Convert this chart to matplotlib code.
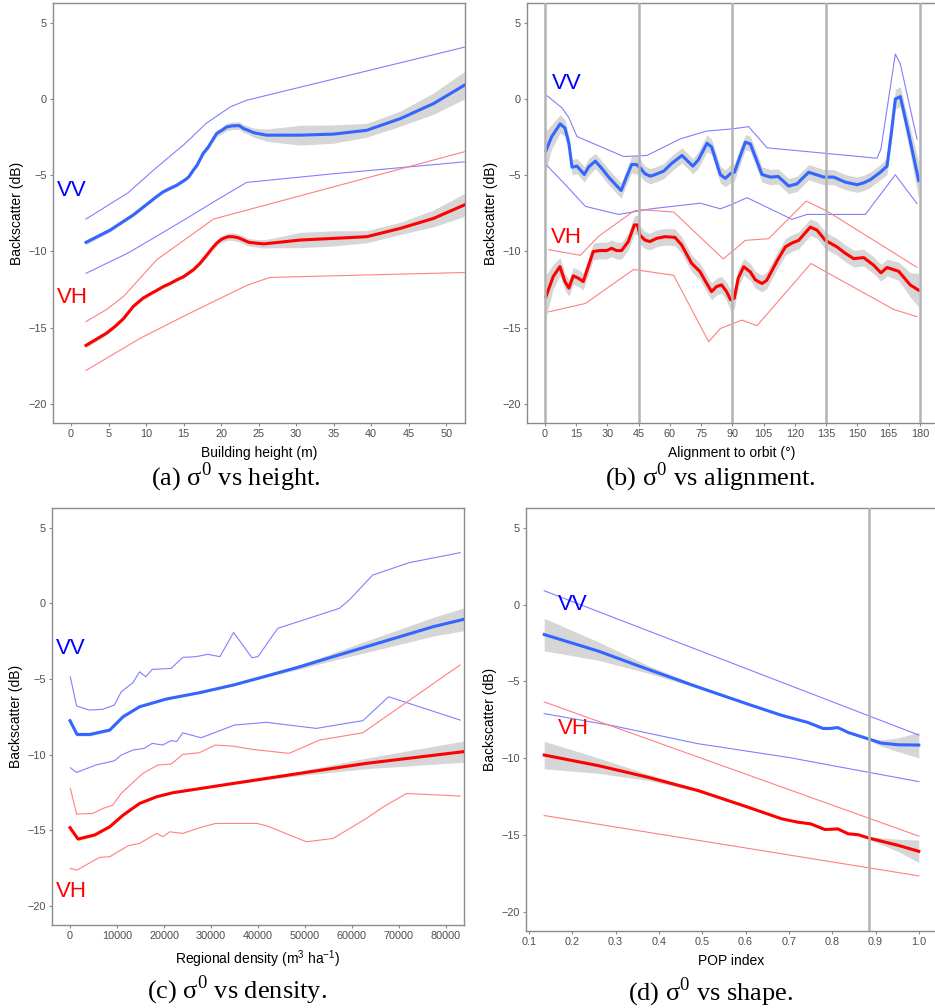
import matplotlib
matplotlib.use("Agg")
import matplotlib.pyplot as plt
import numpy as np

plt.rcParams["font.family"] = ["Liberation Sans", "DejaVu Sans"]

# ---- (a) backscatter vs building height ----
a_vv_x = [2, 5.2, 8.3, 11.4, 12.3, 13.2, 14.1, 15.2, 15.7, 16.3, 16.8, 17.6, 18.3, 19.4, 20.1, 20.75,
          21.5, 22.4, 23.0, 23.7, 24.3, 25.3, 26.1, 30.5, 35, 39.4, 43.9, 48.3, 52.4]
a_vv = [-9.4, -8.6, -7.6, -6.4, -6.08, -5.86, -5.65, -5.3, -5.1, -4.66, -4.34, -3.57, -3.14, -2.26, -2.05, -1.83,
        -1.76, -1.74, -1.94, -2.07, -2.2, -2.3, -2.37, -2.37, -2.3, -2.05, -1.28, -0.3, 0.9]
a_vv_se = [0.15, 0.12, 0.1, 0.1, 0.1, 0.1, 0.1, 0.1, 0.1, 0.12, 0.13, 0.15, 0.18, 0.2, 0.22, 0.25,
           0.25, 0.25, 0.25, 0.27, 0.3, 0.35, 0.4, 0.65, 0.6, 0.45, 0.5, 0.7, 0.9]
a_vh_x = [2, 4.75, 5.9, 7, 8.3, 9.6, 10.5, 11.6, 12.3, 13.2, 14.1, 15, 16.3, 17.2, 18.1, 18.8, 19.4, 19.9,
          20.3, 20.9, 21.6, 22.3, 23, 23.7, 24.8, 25.7, 26.5, 30.5, 35, 39.4, 43.9, 48.3, 52.4]
a_vh = [-16.16, -15.35, -14.9, -14.4, -13.6, -13.06, -12.8, -12.5, -12.3, -12.1, -11.86, -11.65, -11.2, -10.77,
        -10.23, -9.79, -9.46, -9.25, -9.14, -9.03, -9.03, -9.1, -9.25, -9.4, -9.46, -9.5, -9.46, -9.25, -9.14,
        -9.03, -8.48, -7.83, -6.95]
a_vh_se = [0.15, 0.12, 0.11, 0.1, 0.1, 0.1, 0.1, 0.1, 0.1, 0.1, 0.1, 0.1, 0.12, 0.13, 0.15, 0.18, 0.2, 0.2,
           0.22, 0.23, 0.25, 0.25, 0.25, 0.25, 0.25, 0.28, 0.3, 0.5, 0.5, 0.4, 0.4, 0.55, 0.75]
a_vv_hi_x = [2, 7.6, 11, 15.2, 18, 21.2, 23.4, 52.4]
a_vv_hi = [-7.87, -6.15, -4.66, -2.92, -1.6, -0.52, -0.08, 3.4]
a_vv_lo_x = [2, 7.6, 11.4, 15.4, 19.4, 23.4, 35, 52.4]
a_vv_lo = [-11.43, -10.1, -9.0, -7.83, -6.63, -5.47, -4.9, -4.12]
a_vh_hi_x = [2, 4.75, 7, 9.2, 11.4, 15.4, 19, 52.4]
a_vh_hi = [-14.6, -13.8, -12.95, -11.75, -10.55, -9.14, -7.87, -3.46]
a_vh_lo_x = [2, 9.2, 15.4, 23.4, 26.5, 52.4]
a_vh_lo = [-17.8, -15.7, -14.15, -12.23, -11.7, -11.38]

# ---- (b) backscatter vs alignment to orbit ----
b_vv_x = [0.5, 3.2, 7.3, 9.6, 11.5, 13, 15.4, 18.9, 21, 24.2,
          27, 30.6, 33.5, 36.6, 39.2, 41.6, 43.8, 45.7, 48, 50.6,
          53, 57, 61, 65.8, 71, 73.6, 77.8, 80, 84.2, 86.6,
          89, 91, 93.6, 96.2, 98.6, 101, 104.2, 108.2, 112, 117,
          121, 126.6, 130, 133.8, 138.6, 144.2, 149.8, 153, 156.2, 161,
          164.2, 166.3, 168.2, 170.6, 174.6, 179.4]
b_vv = [-3.38, -2.48, -1.63, -1.9, -2.9, -4.47, -4.4, -4.95, -4.45, -4.07,
        -4.5, -5.12, -5.55, -6.0, -5.1, -4.3, -4.29, -4.5, -4.9, -5.06,
        -4.95, -4.73, -4.2, -3.7, -4.4, -4.0, -2.9, -3.14, -4.96, -5.2,
        -4.9, -4.8, -3.79, -2.83, -2.94, -3.8, -4.95, -5.12, -5.08, -5.71,
        -5.56, -4.8, -4.95, -5.12, -5.12, -5.45, -5.62, -5.5, -5.29, -4.8,
        -4.4, -2.2, 0.0, 0.16, -2.28, -5.34]
b_vv_se = [1.3, 0.8, 0.6, 0.55, 0.5, 0.5, 0.5, 0.5, 0.55, 0.5,
           0.5, 0.5, 0.5, 0.5, 0.5, 0.55, 0.6, 0.55, 0.5, 0.5,
           0.5, 0.5, 0.5, 0.5, 0.5, 0.55, 0.55, 0.5, 0.55, 0.55,
           0.6, 0.55, 0.55, 0.5, 0.5, 0.5, 0.5, 0.5, 0.5, 0.5,
           0.5, 0.5, 0.5, 0.5, 0.5, 0.5, 0.5, 0.5, 0.5, 0.5,
           0.55, 0.6, 0.65, 0.65, 0.8, 1.2]
b_vh_x = [0.5, 4, 7.2, 9.6, 11.5, 13.6, 16, 18.4, 20.8, 23.2,
          26.4, 29.6, 32, 34.4, 36.8, 40, 42.9, 44.5, 45.6, 48,
          50.4, 53.6, 57.6, 62.4, 65.6, 70.4, 74.4, 77.6, 80, 82.4,
          84.8, 87.2, 89.1, 90.9, 92.8, 95.4, 98.6, 101, 104.2, 106.4,
          108.2, 111.5, 115.4, 118.5, 121.8, 124.8, 127.4, 130.6, 134.6, 140.2,
          144, 148.2, 153, 157.8, 161.3, 164.2, 169.8, 175.4, 179.4]
b_vh = [-12.95, -11.64, -10.99, -11.97, -12.4, -11.6, -11.75, -11.97, -10.99, -10.0,
        -9.94, -9.94, -9.79, -9.94, -9.94, -9.35, -8.26, -8.26, -8.92, -9.25,
        -9.35, -9.14, -9.03, -9.07, -9.57, -10.77, -11.32, -12.08, -12.63, -12.3,
        -12.19, -12.63, -13.17, -13.06, -11.75, -11.0, -11.34, -11.86, -12.1, -11.9,
        -11.45, -10.6, -9.7, -9.45, -9.27, -8.8, -8.4, -8.6, -9.27, -9.7,
        -10.1, -10.47, -10.4, -10.9, -11.4, -11.05, -11.3, -12.2, -12.54]
b_vh_se = [1.4, 0.8, 0.6, 0.55, 0.55, 0.55, 0.55, 0.55, 0.55, 0.55,
           0.55, 0.55, 0.55, 0.55, 0.55, 0.55, 0.6, 0.65, 0.6, 0.55,
           0.55, 0.55, 0.55, 0.55, 0.55, 0.55, 0.55, 0.55, 0.55, 0.55,
           0.55, 0.6, 0.7, 0.7, 0.6, 0.55, 0.55, 0.55, 0.55, 0.55,
           0.55, 0.55, 0.55, 0.55, 0.55, 0.55, 0.55, 0.55, 0.55, 0.55,
           0.55, 0.55, 0.55, 0.55, 0.55, 0.55, 0.6, 0.8, 1.1]
b_vv_hi_x = [1, 8.2, 11.4, 15.4, 37.8, 49, 65, 77.6, 89.8, 97.8, 106.6, 159.4, 161.3, 168.2, 170.6, 178.6]
b_vv_hi = [0.22, -0.58, -1.2, -2.46, -3.77, -3.7, -2.61, -2.1, -1.96, -1.81, -3.2, -3.88, -3.27, 2.95, 2.3, -2.62]
b_vv_lo_x = [1, 10.6, 19.4, 35.4, 51, 74.6, 84.2, 89.8, 97, 118.6, 125.8, 153.8, 168.2, 178.6]
b_vv_lo = [-4.36, -5.73, -7.04, -7.57, -7.2, -6.83, -7.2, -6.91, -6.47, -7.89, -7.57, -7.57, -4.97, -6.86]
b_vh_hi_x = [1.8, 17, 25.8, 42.6, 46.6, 61.8, 85.6, 96.2, 107.4, 125.4, 135.4, 178.6]
b_vh_hi = [-9.88, -10.25, -9.0, -7.35, -7.26, -7.41, -10.49, -9.27, -9.16, -6.69, -7.35, -11.04]
b_vh_lo_x = [1.8, 19.4, 42.6, 61.8, 78.6, 84.2, 94.6, 101.8, 127.7, 167.4, 178.6]
b_vh_lo = [-13.96, -13.41, -11.18, -11.56, -15.92, -15.05, -14.5, -14.87, -10.79, -13.8, -14.28]
b_vlines = [0, 45, 90, 135, 180]

# ---- (c) backscatter vs regional density ----
c_vv_x = [0, 1500, 4200, 8450, 11300, 14800, 20500, 27600, 34700, 41800, 48900, 56000, 63100, 70200, 77300, 83700]
c_vv = [-7.75, -8.66, -8.66, -8.37, -7.49, -6.83, -6.32, -5.9, -5.4, -4.8, -4.19, -3.52, -2.86, -2.2, -1.54, -1.06]
c_vv_se = [0.15, 0.1, 0.1, 0.1, 0.08, 0.06, 0.05, 0.05, 0.05, 0.08, 0.15, 0.25, 0.38, 0.5, 0.62, 0.75]
c_vh_x = [0, 1700, 5250, 8450, 11300, 14800, 18400, 21900, 34700, 48900, 63100, 83700]
c_vh = [-14.82, -15.57, -15.3, -14.76, -13.99, -13.22, -12.78, -12.51, -11.9, -11.23, -10.57, -9.8]
c_vh_se = [0.15, 0.1, 0.1, 0.08, 0.06, 0.05, 0.05, 0.05, 0.05, 0.15, 0.35, 0.7]
c_vv_hi_x = [70, 1400, 4100, 6960, 9450, 10900, 13400, 14800, 16100, 17500, 21500, 24000, 26800, 29300,
             31900, 34800, 38700, 40000, 44200, 57300, 59400, 64400, 72200, 83000]
c_vv_hi = [-4.85, -6.78, -7.05, -7.0, -6.72, -5.84, -5.24, -4.52, -4.85, -4.36, -4.3, -3.57, -3.52, -3.37,
           -3.52, -1.92, -3.59, -3.52, -1.65, -0.33, 0.22, 1.87, 2.69, 3.35]
c_vv_lo_x = [70, 1400, 5500, 9450, 10900, 13400, 15800, 17500, 19700, 21500, 22700, 24000, 27900, 35000,
             41800, 52400, 62300, 67800, 83000]
c_vv_lo = [-10.86, -11.17, -10.68, -10.4, -10.02, -9.69, -9.58, -9.25, -9.36, -9.07, -9.13, -8.55, -8.88, -8.04,
           -7.86, -8.26, -7.75, -6.17, -7.71]
c_vh_hi_x = [70, 1400, 4800, 7000, 9100, 10900, 15500, 18700, 21500, 24000, 27500, 30900, 34600, 38900,
             46600, 53100, 62300, 83000]
c_vh_hi = [-12.22, -13.92, -13.88, -13.55, -13.33, -12.55, -11.23, -10.68, -10.62, -9.98, -9.87, -9.36, -9.43, -9.65,
           -9.91, -9.03, -8.55, -4.07]
c_vh_lo_x = [70, 1500, 6300, 8450, 12400, 14800, 18400, 19800, 21200, 24000, 27600, 31000, 39800, 41900,
             50300, 56000, 63100, 66700, 71600, 83000]
c_vh_lo = [-17.51, -17.62, -16.78, -16.74, -16.01, -15.86, -15.2, -15.42, -15.09, -15.2, -14.82, -14.54, -14.54, -14.7,
           -15.75, -15.53, -14.2, -13.44, -12.56, -12.73]

# ---- (d) backscatter vs POP index ----
d_vv_x = [0.135, 0.26, 0.375, 0.49, 0.606, 0.683, 0.744, 0.779, 0.794, 0.813, 0.837, 0.885, 0.913, 0.952, 1.0]
d_vv = [-1.94, -3.02, -4.21, -5.36, -6.48, -7.2, -7.67, -8.06, -8.06, -8.0, -8.32, -8.75, -9.01, -9.12, -9.14]
d_vv_se = [1.06, 0.6, 0.25, 0.08, 0.06, 0.06, 0.06, 0.06, 0.06, 0.06, 0.06, 0.08, 0.2, 0.45, 0.83]
d_vh_x = [0.135, 0.26, 0.375, 0.49, 0.606, 0.683, 0.72, 0.75, 0.783, 0.813, 0.837, 0.86, 0.885, 0.952, 1.0]
d_vh = [-9.79, -10.48, -11.24, -12.1, -13.19, -13.94, -14.16, -14.27, -14.64, -14.6, -14.92, -14.98, -15.2, -15.67, -16.06]
d_vh_se = [0.9, 0.5, 0.2, 0.08, 0.05, 0.05, 0.05, 0.05, 0.05, 0.05, 0.05, 0.05, 0.08, 0.4, 0.73]
d_vv_hi_x = [0.135, 1.0]
d_vv_hi = [0.91, -8.49]
d_vv_lo_x = [0.135, 0.295, 0.49, 0.7, 0.885, 1.0]
d_vv_lo = [-7.09, -7.89, -9.05, -9.95, -10.92, -11.52]
d_vh_hi_x = [0.135, 1.0]
d_vh_hi = [-6.33, -15.07]
d_vh_lo_x = [0.135, 1.0]
d_vh_lo = [-13.73, -17.66]
d_vline = 0.885

y_ticks = [-20, -15, -10, -5, 0, 5]

W, H = 935, 1008
fig = plt.figure(figsize=(W / 100, H / 100), dpi=100)


def px_axes(left, top, right, bottom):
    return fig.add_axes([left / W, 1 - bottom / H, (right - left) / W, (bottom - top) / H])


def style(ax, xlim, xticks, xlabel, fmt=None):
    ax.set_xlim(*xlim)
    ax.set_ylim(-21.25, 6.3)
    ax.set_xticks(xticks)
    if fmt:
        ax.set_xticklabels([fmt.format(v) for v in xticks])
    ax.set_yticks(y_ticks)
    for s in ax.spines.values():
        s.set_color("#8a8a8a")
        s.set_linewidth(1.0)
    ax.tick_params(length=2.5, width=0.8, color="#8a8a8a", labelcolor="#4d4d4d",
                   labelsize=7.8, pad=2)
    ax.set_xlabel(xlabel, fontsize=10, labelpad=5)
    ax.set_ylabel("Backscatter (dB)", fontsize=10, labelpad=3)


def smooth(ax, x, y, se, color):
    y = np.array(y)
    se = np.array(se)
    ax.fill_between(x, y - se, y + se, color="#999999", alpha=0.4, lw=0, zorder=2)
    ax.plot(x, y, color=color, lw=2.2, zorder=3, solid_joinstyle="round")


def thin(ax, x, y, color):
    ax.plot(x, y, color=color, lw=0.8, zorder=2.5)


BLUE, RED = "#3366FF", "#FF0000"
LBLUE, LRED = "#8080ff", "#ff8080"

# (a)
ax = px_axes(53, 3, 465, 423)
thin(ax, a_vv_hi_x, a_vv_hi, LBLUE)
thin(ax, a_vv_lo_x, a_vv_lo, LBLUE)
thin(ax, a_vh_hi_x, a_vh_hi, LRED)
thin(ax, a_vh_lo_x, a_vh_lo, LRED)
smooth(ax, a_vv_x, a_vv, a_vv_se, BLUE)
smooth(ax, a_vh_x, a_vh, a_vh_se, RED)
ax.text(-1.9, -6.0, "VV", color="blue", fontsize=16, va="center", ha="left")
ax.text(-1.9, -13.05, "VH", color="red", fontsize=16, va="center", ha="left")
style(ax, (-2.4, 52.5), list(range(0, 51, 5)), "Building height (m)")

# (b)
ax = px_axes(527, 3, 937, 423)
thin(ax, b_vv_hi_x, b_vv_hi, LBLUE)
thin(ax, b_vv_lo_x, b_vv_lo, LBLUE)
thin(ax, b_vh_hi_x, b_vh_hi, LRED)
thin(ax, b_vh_lo_x, b_vh_lo, LRED)
smooth(ax, b_vv_x, b_vv, b_vv_se, BLUE)
smooth(ax, b_vh_x, b_vh, b_vh_se, RED)
for v in b_vlines:
    ax.axvline(v, color="#b3b3b3", lw=1.8, zorder=5)
ax.text(3.2, 1.0, "VV", color="blue", fontsize=16, va="center", ha="left")
ax.text(2.8, -9.07, "VH", color="red", fontsize=16, va="center", ha="left")
style(ax, (-8.6, 188.2), list(range(0, 181, 15)), "Alignment to orbit (°)")

# (c)
ax = px_axes(52, 508, 464, 925)
thin(ax, c_vv_hi_x, c_vv_hi, LBLUE)
thin(ax, c_vv_lo_x, c_vv_lo, LBLUE)
thin(ax, c_vh_hi_x, c_vh_hi, LRED)
thin(ax, c_vh_lo_x, c_vh_lo, LRED)
smooth(ax, c_vv_x, c_vv, c_vv_se, BLUE)
smooth(ax, c_vh_x, c_vh, c_vh_se, RED)
ax.text(-3000, -3.0, "VV", color="blue", fontsize=16, va="center", ha="left")
ax.text(-3000, -19.05, "VH", color="red", fontsize=16, va="center", ha="left")
style(ax, (-3830, 83830), list(range(0, 80001, 10000)),
      r"Regional density (m$^\mathregular{3}$ ha$^\mathregular{-1}$)")

# (d)
ax = px_axes(526, 508, 937, 931)
thin(ax, d_vv_hi_x, d_vv_hi, LBLUE)
thin(ax, d_vv_lo_x, d_vv_lo, LBLUE)
thin(ax, d_vh_hi_x, d_vh_hi, LRED)
thin(ax, d_vh_lo_x, d_vh_lo, LRED)
smooth(ax, d_vv_x, d_vv, d_vv_se, BLUE)
smooth(ax, d_vh_x, d_vh, d_vh_se, RED)
ax.axvline(d_vline, color="#b3b3b3", lw=1.8, zorder=5)
ax.text(0.167, 0.0, "VV", color="blue", fontsize=16, va="center", ha="left")
ax.text(0.167, -8.05, "VH", color="red", fontsize=16, va="center", ha="left")
style(ax, (0.093, 1.042), [0.1, 0.2, 0.3, 0.4, 0.5, 0.6, 0.7, 0.8, 0.9, 1.0], "POP index", "{:.1f}")

# captions
cap = dict(family="Liberation Serif", fontsize=19, ha="center", va="center")
fig.text(236 / W, 1 - 477 / H, r"(a) σ$^\mathregular{0}$ vs height.", **cap)
fig.text(710 / W, 1 - 477 / H, r"(b) σ$^\mathregular{0}$ vs alignment.", **cap)
fig.text(237 / W, 1 - 990 / H, r"(c) σ$^\mathregular{0}$ vs density.", **cap)
fig.text(711 / W, 1 - 992 / H, r"(d) σ$^\mathregular{0}$ vs shape.", **cap)

fig.savefig("out.png", dpi=100)
